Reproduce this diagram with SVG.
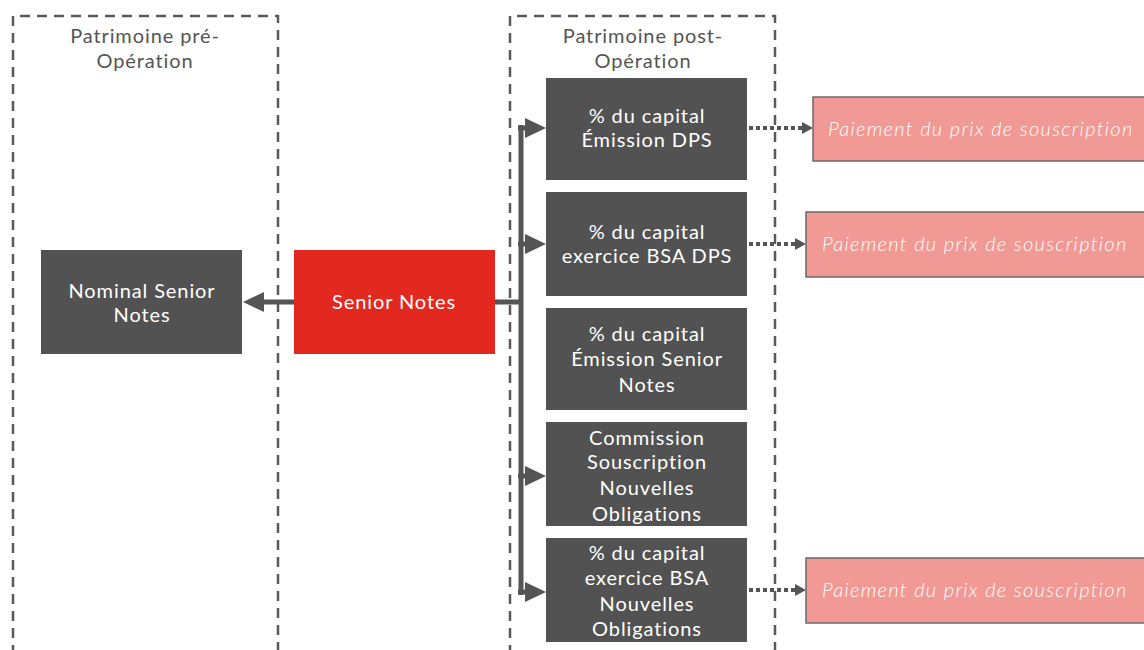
<svg xmlns="http://www.w3.org/2000/svg" width="1144" height="650" viewBox="0 0 1144 650">
<style>
.frame{fill:none;stroke:#5a5a5a;stroke-width:2.5;stroke-dasharray:10 7}
.ttl{font-family:Lato,"Noto Sans",sans-serif;font-size:20px;fill:#555;text-anchor:middle;letter-spacing:0.9px}
.dark{fill:#525252}
.red{fill:#E32820}
.pink{fill:#F19994;stroke:#6a6a6a;stroke-width:1.5}
.wt{font-family:Lato,"Noto Sans",sans-serif;font-size:20px;fill:#fff;text-anchor:middle;letter-spacing:0.9px}
.it{font-family:Lato,"Noto Sans",sans-serif;font-size:20px;fill:#fff;font-style:italic;font-weight:300;letter-spacing:1.3px}
.solid{fill:none;stroke:#555;stroke-width:5}
.dot{fill:none;stroke:#555;stroke-width:4;stroke-dasharray:4 3}
.ah{fill:#555}
</style>
<g id="frame-pre"><path class="frame" d="M13,655 V16 H278 V655"/><text class="ttl" x="145" y="43">Patrimoine pré-</text><text class="ttl" x="145" y="68">Opération</text></g>
<g id="frame-post"><path class="frame" d="M510,655 V16 H775 V655"/><text class="ttl" x="643" y="43">Patrimoine post-</text><text class="ttl" x="643" y="68">Opération</text></g>
<g id="connectors">
<line class="solid" x1="294" y1="302" x2="262" y2="302"/>
<path class="ah" d="M243,302 L264,292 L264,312 z"/>
<path class="solid" d="M495,302 H521"/>
<line class="solid" x1="521" y1="125" x2="521" y2="595"/>
<path class="solid" d="M518,128 H527"/><path class="ah" d="M546,128 L525,118 L525,138 z"/>
<path class="solid" d="M518,244 H527"/><path class="ah" d="M546,244 L525,234 L525,254 z"/>
<path class="solid" d="M518,476 H527"/><path class="ah" d="M546,476 L525,466 L525,486 z"/>
<path class="solid" d="M518,592 H527"/><path class="ah" d="M546,592 L525,582 L525,602 z"/>
<line class="dot" x1="749" y1="128" x2="803" y2="128"/><path class="ah" d="M813,128 L802,122 L802,134 z"/>
<line class="dot" x1="749" y1="244" x2="796" y2="244"/><path class="ah" d="M806,244 L795,238 L795,250 z"/>
<line class="dot" x1="749" y1="590" x2="796" y2="590"/><path class="ah" d="M806,590 L795,584 L795,596 z"/>
</g>
<g id="nominal"><rect class="dark" x="41" y="250" width="201" height="104"/><text class="wt" x="142" y="298">Nominal Senior</text><text class="wt" x="142" y="322">Notes</text></g>
<g id="senior"><rect class="red" x="294" y="250" width="201" height="104"/><text class="wt" x="394" y="309">Senior Notes</text></g>
<g id="n1"><rect class="dark" x="546" y="78" width="201" height="102"/><text class="wt" x="647" y="123">% du capital</text><text class="wt" x="647" y="147">Émission DPS</text></g>
<g id="n2"><rect class="dark" x="546" y="192" width="201" height="104"/><text class="wt" x="647" y="239">% du capital</text><text class="wt" x="647" y="263">exercice BSA DPS</text></g>
<g id="n3"><rect class="dark" x="546" y="308" width="201" height="102"/><text class="wt" x="647" y="341">% du capital</text><text class="wt" x="647" y="366">Émission Senior</text><text class="wt" x="647" y="392">Notes</text></g>
<g id="n4"><rect class="dark" x="546" y="422" width="201" height="104"/><text class="wt" x="647" y="445">Commission</text><text class="wt" x="647" y="469">Souscription</text><text class="wt" x="647" y="495">Nouvelles</text><text class="wt" x="647" y="521">Obligations</text></g>
<g id="n5"><rect class="dark" x="546" y="538" width="201" height="104"/><text class="wt" x="647" y="560">% du capital</text><text class="wt" x="647" y="585">exercice BSA</text><text class="wt" x="647" y="611">Nouvelles</text><text class="wt" x="647" y="636">Obligations</text></g>
<g id="p1"><rect class="pink" x="813" y="97" width="340" height="64"/><text class="it" x="828" y="136">Paiement du prix de souscription</text></g>
<g id="p2"><rect class="pink" x="806" y="212" width="347" height="65"/><text class="it" x="822" y="251">Paiement du prix de souscription</text></g>
<g id="p3"><rect class="pink" x="806" y="558" width="347" height="65"/><text class="it" x="822" y="597">Paiement du prix de souscription</text></g>
</svg>
